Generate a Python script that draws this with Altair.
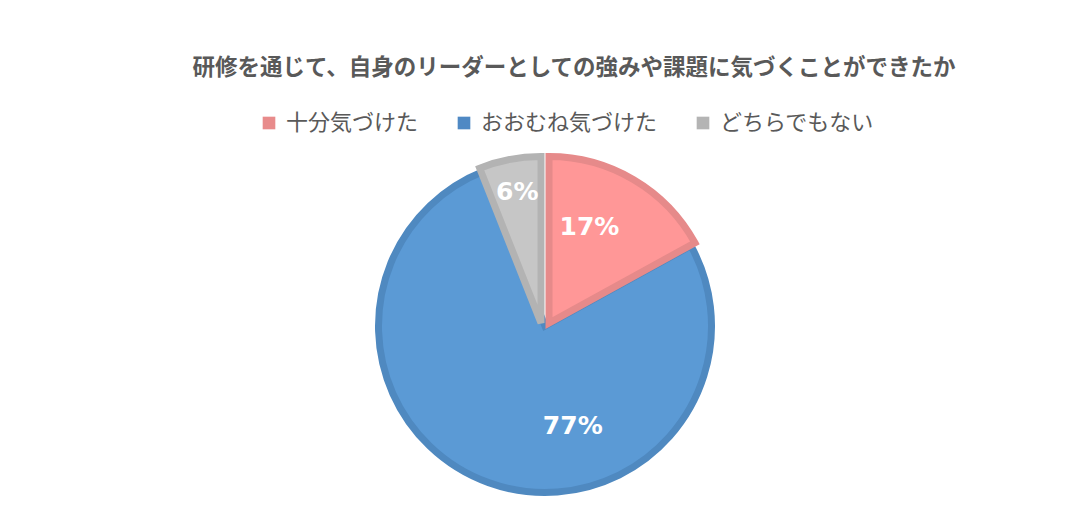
import altair as alt
import pandas as pd

categories = ["十分気づけた", "おおむね気づけた", "どちらでもない"]
values = [17, 77, 6]
labels = ["17%", "77%", "6%"]

fill_colors = ["#FF9797", "#5B9AD5", "#C6C6C6"]
stroke_colors = ["#E68A8A", "#4F89C0", "#B3B3B3"]
legend_colors = ["#E88B8B", "#4F89C4", "#B4B4B4"]

df = pd.DataFrame({"cat": categories, "value": values, "label": labels, "order": list(range(len(categories)))})

CX, CY = 537, 237
R = 166.5

theta_scale = alt.Scale(domain=[0, 100], range=[0, 6.283185307])

base = alt.Chart(df).transform_window(
    cum="sum(value)", sort=[alt.SortField("order")], frame=[None, 0]
).transform_calculate(
    start="datum.cum - datum.value", mid="datum.cum - datum.value / 2"
)

# per-slice style: (explode dx, dy, label radius, label dx, label dy)
slice_style = {
    "おおむね気づけた": (0, 0, 104, 63, 2),
    "十分気づけた": (4, -3, 109, -15, -2),
    "どちらでもない": (-4, -3, 137, 2, 4),
}

layers = []
for i, cat in enumerate(["おおむね気づけた", "十分気づけた", "どちらでもない"]):
    k = categories.index(cat)
    ex, ey, lr, ldx, ldy = slice_style[cat]
    b = base.transform_filter(alt.datum.cat == cat)
    arc = b.mark_arc(
        radius=R, fill=fill_colors[k], stroke=stroke_colors[k], strokeWidth=7,
        strokeJoin="miter", opacity=1
    ).encode(
        theta=alt.Theta("start:Q", scale=theta_scale),
        theta2="cum:Q",
        x=alt.value(CX + ex),
        y=alt.value(CY + ey),
        color=alt.Color(
            "cat:N",
            scale=alt.Scale(domain=categories, range=legend_colors),
            legend=alt.Legend(
                title=None, orient="none", direction="horizontal",
                legendX=250, legendY=23, labelFont="Noto Sans CJK JP",
                labelFontSize=22, labelColor="#595959", symbolType="square",
                symbolSize=160, symbolStrokeWidth=0, columnPadding=34,
                labelOffset=6, labelLimit=400,
            ),
        ),
    )
    txt = b.mark_text(
        radius=lr, font="DejaVu Sans", fontWeight="bold", fontSize=25,
        color="white", dx=ldx, dy=ldy, align="center", baseline="middle"
    ).encode(
        theta=alt.Theta("mid:Q", scale=theta_scale),
        x=alt.value(CX + ex),
        y=alt.value(CY + ey),
        text="label:N",
    )
    layers += [arc, txt]

chart = alt.layer(*layers).properties(
    width=1070, height=420,
    padding={"top": 48, "left": 0, "right": 0, "bottom": 0},
    title=alt.Title(
        "研修を通じて、自身のリーダーとしての強みや課題に気づくことができたか",
        font="Noto Sans CJK JP", fontSize=22.5, fontWeight="bold", color="#595959",
        anchor="middle", dx=31, offset=10,
    ),
).configure_view(stroke=None)

chart.save("out.html", embed_options={"renderer": "svg", "actions": False})
